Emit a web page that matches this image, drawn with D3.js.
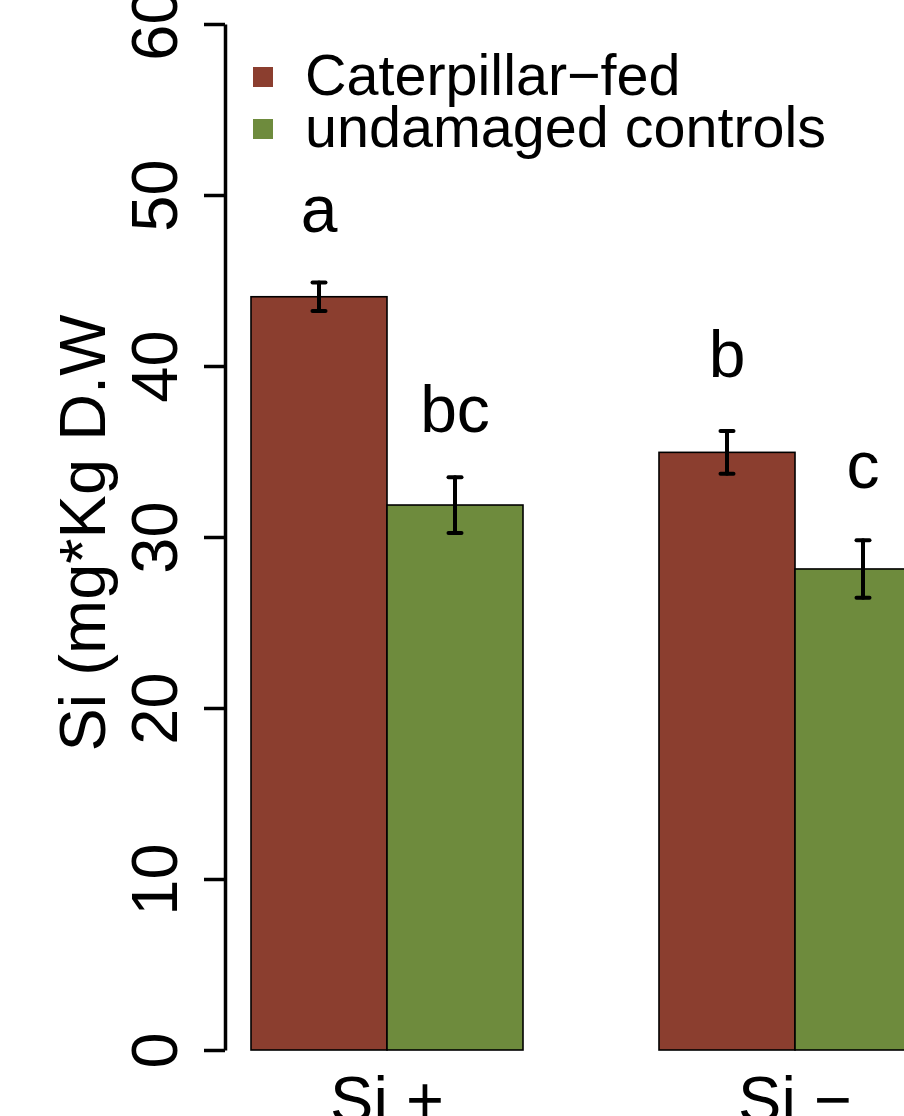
<!DOCTYPE html>
<html>
<head>
<meta charset="utf-8">
<script src="https://cdn.jsdelivr.net/npm/d3@7"></script>
<style>
  html, body { margin: 0; padding: 0; background: #fff; }
  svg { display: block; font-family: "Liberation Sans", Arial, sans-serif; }
</style>
</head>
<body>
<div id="chart"></div>
<script>
// data
const groups = ["Si +", "Si \u2212"];
const series = ["Caterpillar\u2212fed", "undamaged controls"];
const colors = ["#8B3E2F", "#6E8B3D"];
// means per group, in series order
const caterpillarMeans = [44.05, 34.95];
const controlMeans = [31.87, 28.13];
const caterpillarSE = [0.84, 1.25];
const controlSE = [1.63, 1.68];
// significance letters and the height they sit at
const caterpillarLetters = ["a", "b"];
const controlLetters = ["bc", "c"];
const caterpillarLetterY = [47.85, 39.35];
const controlLetterY = [36.15, 32.85];
const yTicks = [0, 10, 20, 30, 40, 50, 60];
const yLabel = "Si (mg*Kg D.W";

const W = 904, H = 1116;

const rows = [];
groups.forEach((g, i) => {
  rows.push({group: g, s: series[0], v: caterpillarMeans[i], se: caterpillarSE[i], letter: caterpillarLetters[i], ly: caterpillarLetterY[i]});
  rows.push({group: g, s: series[1], v: controlMeans[i], se: controlSE[i], letter: controlLetters[i], ly: controlLetterY[i]});
});

const svg = d3.select("#chart").append("svg")
  .attr("width", W)
  .attr("height", H);

const y = d3.scaleLinear().domain([0, 60]).range([1050, 24]);
const x0 = d3.scaleBand().domain(groups).range([251, 931]).paddingInner(1 / 3);
const x1 = d3.scaleBand().domain(series).range([0, x0.bandwidth()]);
const color = d3.scaleOrdinal().domain(series).range(colors);

// bars
svg.append("g").selectAll("rect")
  .data(rows)
  .join("rect")
  .attr("x", d => x0(d.group) + x1(d.s))
  .attr("y", d => y(d.v))
  .attr("width", x1.bandwidth())
  .attr("height", d => y(0) - y(d.v))
  .attr("fill", d => color(d.s))
  .attr("stroke", "#000")
  .attr("stroke-width", 1.6);

// error bars
const eb = svg.append("g").attr("stroke", "#000").attr("stroke-width", 4).attr("stroke-linecap", "round");
const cx = d => x0(d.group) + x1(d.s) + x1.bandwidth() / 2;
eb.selectAll(".stem").data(rows).join("line")
  .attr("x1", cx).attr("x2", cx)
  .attr("y1", d => y(d.v - d.se)).attr("y2", d => y(d.v + d.se));
eb.selectAll(".capTop").data(rows).join("line")
  .attr("x1", d => cx(d) - 6.5).attr("x2", d => cx(d) + 6.5)
  .attr("y1", d => y(d.v + d.se)).attr("y2", d => y(d.v + d.se));
eb.selectAll(".capBot").data(rows).join("line")
  .attr("x1", d => cx(d) - 6.5).attr("x2", d => cx(d) + 6.5)
  .attr("y1", d => y(d.v - d.se)).attr("y2", d => y(d.v - d.se));

// letters
svg.append("g").selectAll("text")
  .data(rows)
  .join("text")
  .attr("x", cx)
  .attr("y", d => y(d.ly))
  .attr("text-anchor", "middle")
  .style("font-size", "66px")
  .text(d => d.letter);

// y axis
const yAxis = svg.append("g")
  .attr("transform", "translate(225,0)")
  .call(d3.axisLeft(y).tickValues(yTicks).tickSize(21).tickSizeOuter(0));
yAxis.select(".domain").attr("stroke-width", 3.5);
yAxis.selectAll(".tick line").attr("stroke-width", 3.5);
yAxis.selectAll(".tick text")
  .attr("x", null).attr("dy", null)
  .attr("transform", "translate(-48,0) rotate(-90)")
  .attr("text-anchor", "middle")
  .attr("fill", "#000")
  .style("font-size", "65px")
  .style("font-family", "'Liberation Sans', Arial, sans-serif");

svg.append("text")
  .attr("transform", "translate(105,533) rotate(-90)")
  .attr("text-anchor", "middle")
  .style("font-size", "65px")
  .text(yLabel);

// x labels
svg.append("g").selectAll("text")
  .data(groups)
  .join("text")
  .attr("x", d => x0(d) + x0.bandwidth() / 2)
  .attr("y", 1122)
  .attr("text-anchor", "middle")
  .style("font-size", "65px")
  .text(d => d);

// legend
const leg = svg.append("g").selectAll("g")
  .data(series)
  .join("g")
  .attr("transform", (d, i) => `translate(253,${67 + i * 52})`);
leg.append("rect").attr("width", 20).attr("height", 20).attr("fill", d => color(d));
leg.append("text")
  .attr("x", 52).attr("y", 28)
  .style("font-size", "57.5px")
  .text(d => d);
</script>
</body>
</html>
